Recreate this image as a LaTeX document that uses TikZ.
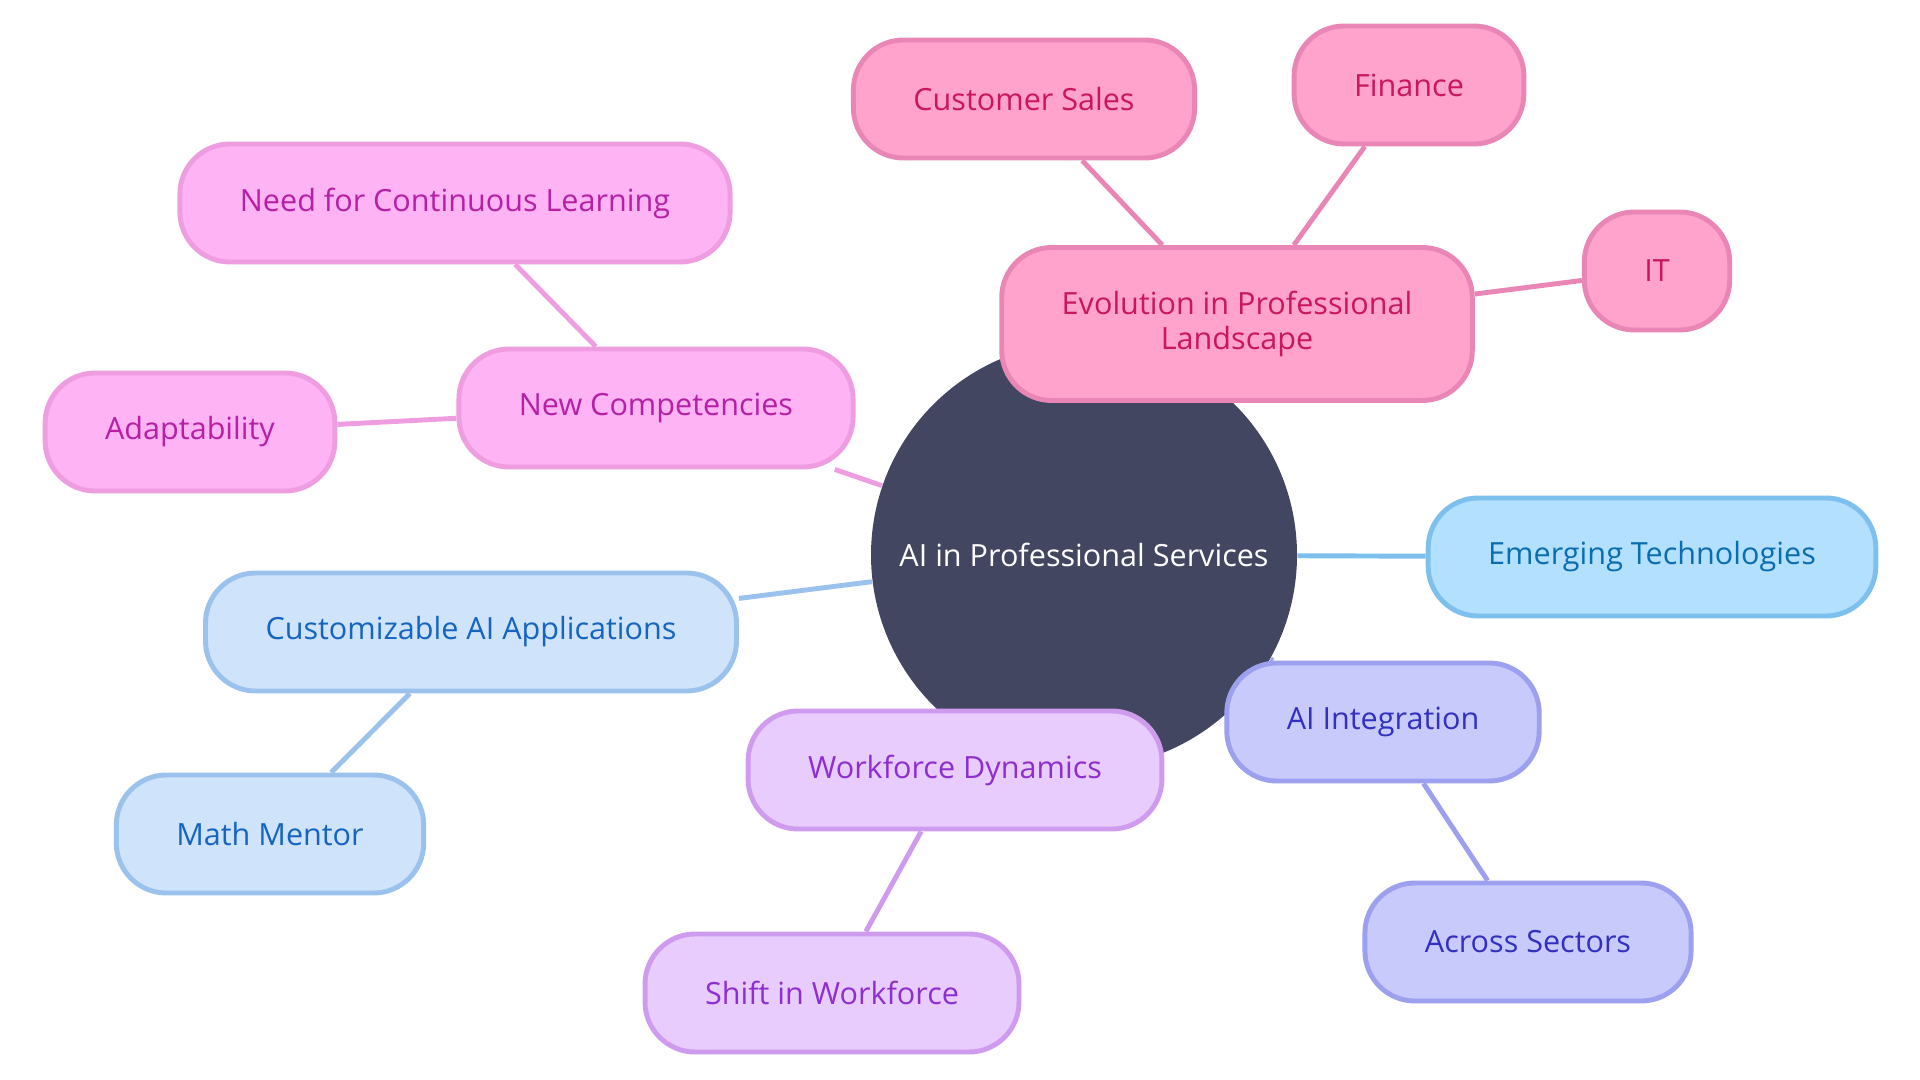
\documentclass[tikz,border=0pt]{standalone}
\usepackage{fontspec}
\setmainfont{Open Sans}
\usetikzlibrary{backgrounds}
\definecolor{mhub}{HTML}{424660}
\definecolor{mrosef}{HTML}{FFA3CC}
\definecolor{mrosed}{HTML}{E986B5}
\definecolor{mroset}{HTML}{C9165F}
\definecolor{mmagf}{HTML}{FDB3F4}
\definecolor{mmagd}{HTML}{EE9DE0}
\definecolor{mmagt}{HTML}{B520A4}
\definecolor{mpalef}{HTML}{CFE3FA}
\definecolor{mpaled}{HTML}{9AC2EC}
\definecolor{mpalet}{HTML}{1565C0}
\definecolor{mskyf}{HTML}{B3E0FE}
\definecolor{mskyd}{HTML}{7DC0EE}
\definecolor{mskyt}{HTML}{0A6DB0}
\definecolor{mlilf}{HTML}{E8CCFD}
\definecolor{mlild}{HTML}{CE9BEE}
\definecolor{mlilt}{HTML}{8E2ED0}
\definecolor{mperf}{HTML}{C8CAFC}
\definecolor{mperd}{HTML}{9DA0EE}
\definecolor{mpert}{HTML}{3330C0}
\tikzset{
  leaf/.style = {draw, rounded corners=0.5cm, line width=1.4pt, minimum height=1.18cm,
    inner xsep=0.6cm, align=center, font=\fontsize{8.7}{9.8}\selectfont},
  hub/.style = {circle, fill=mhub, minimum size=4.26cm, inner sep=0, text=white,
    font=\fontsize{8.7}{9.8}\selectfont},
  rose/.style = {leaf, fill=mrosef, draw=mrosed, text=mroset},
  mag/.style = {leaf, fill=mmagf, draw=mmagd, text=mmagt},
  pale/.style = {leaf, fill=mpalef, draw=mpaled, text=mpalet},
  sky/.style = {leaf, fill=mskyf, draw=mskyd, text=mskyt},
  lil/.style = {leaf, fill=mlilf, draw=mlild, text=mlilt},
  per/.style = {leaf, fill=mperf, draw=mperd, text=mpert},
  link/.style = {line width=1.4pt}
}
\begin{document}
\begin{tikzpicture}
  \useasboundingbox (0, 0) rectangle (19.2, -10.8);
  \node [hub] (core) at (10.84, -5.55) {AI in Professional Services};
  % professional landscape
  \node [rose, minimum height=1.53cm] (evo) at (12.37, -3.24) {Evolution in Professional\\Landscape};
  \node [rose] (sales) at (10.24, -0.99) {Customer Sales};
  \node [rose] (fin) at (14.09, -0.85) {Finance};
  \node [rose] (it) at (16.57, -2.71) {IT};
  % competencies
  \node [mag] (comp) at (6.56, -4.08) {New Competencies};
  \node [mag] (learn) at (4.55, -2.03) {Need for Continuous Learning};
  \node [mag] (adapt) at (1.90, -4.32) {Adaptability};
  % applications
  \node [pale] (custom) at (4.71, -6.32) {Customizable AI Applications};
  \node [pale] (math) at (2.70, -8.34) {Math Mentor};
  \node [sky] (emerg) at (16.52, -5.57) {Emerging Technologies};
  % workforce
  \node [lil] (work) at (9.55, -7.70) {Workforce Dynamics};
  \node [lil] (shift) at (8.32, -9.93) {Shift in Workforce};
  \node [per] (integ) at (13.83, -7.22) {AI Integration};
  \node [per] (sect) at (15.28, -9.42) {Across Sectors};
  \begin{scope}[on background layer]
    \draw [link, mrosed] (core) -- (evo);
    \draw [link, mrosed] (evo) -- (sales);
    \draw [link, mrosed] (evo) -- (fin);
    \draw [link, mrosed] (evo) -- (it);
    \draw [link, mmagd] (core) -- (comp);
    \draw [link, mmagd] (comp) -- (learn);
    \draw [link, mmagd] (comp) -- (adapt);
    \draw [link, mpaled] (core) -- (custom);
    \draw [link, mpaled] (custom) -- (math);
    \draw [link, mskyd] (core) -- (emerg);
    \draw [link, mlild] (core) -- (work);
    \draw [link, mlild] (work) -- (shift);
    \draw [link, mperd] (core) -- (integ);
    \draw [link, mperd] (integ) -- (sect);
  \end{scope}
\end{tikzpicture}
\end{document}
